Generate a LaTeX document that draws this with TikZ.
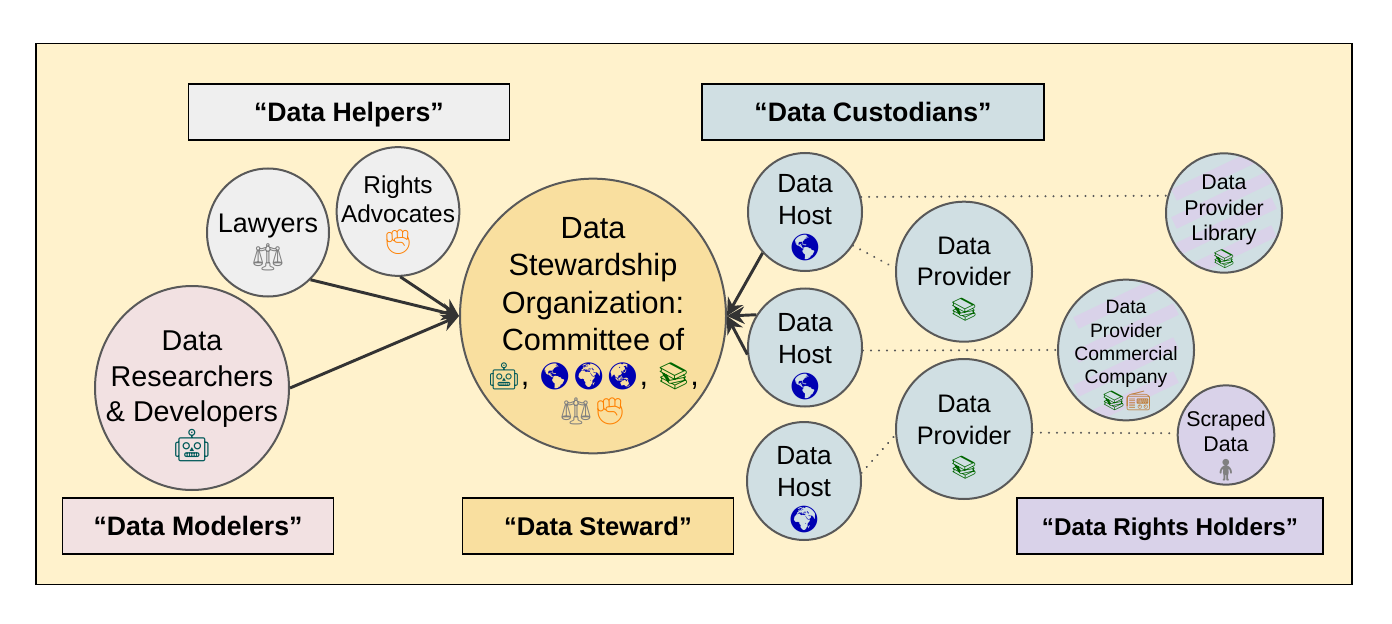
\documentclass[tikz,border=0pt]{standalone}
\usepackage{fontspec}
\setmainfont{Liberation Sans}
\newfontfamily\emojifont{Noto Emoji}
\usepackage{xcolor}
\usetikzlibrary{calc,arrows.meta,shapes.geometric}
\definecolor{paperBg}{HTML}{FFF2CC}
\definecolor{helperFill}{HTML}{EFEFEF}
\definecolor{custodianFill}{HTML}{D0DFE3}
\definecolor{modelerFill}{HTML}{F2E1E2}
\definecolor{stewardFill}{HTML}{F9DF9F}
\definecolor{holderFill}{HTML}{D9D2E9}
\definecolor{ringGray}{HTML}{595959}
\definecolor{linkGray}{HTML}{333333}
\newcommand{\emo}[2]{{\emojifont\textcolor{#1}{#2}}}
\newcommand{\robotE}{\emo{teal!70!black}{🤖}}
\newcommand{\scaleE}{\emo{gray}{⚖}}
\newcommand{\fistE}{\emo{orange}{✊}}
\newcommand{\booksE}{\emo{green!40!black}{📚}}
\newcommand{\radioE}{\emo{brown}{📻}}
\newcommand{\workerE}{\emo{gray}{🧍}}
\newcommand{\globeE}[1]{\emo{blue!70!black}{#1}}
\newcommand{\emoSize}[2]{{\fontsize{#1}{#1}\selectfont#2}}
% pushes the lines of a node down by #1
\newcommand{\dropby}[1]{\rule{0pt}{\dimexpr.72em+2\dimexpr#1\relax\relax}}
\tikzset{
  actor/.style 2 args={ellipse,draw=ringGray,line width=1.5pt,inner sep=-40pt,align=center,text=black,minimum width=#1pt,minimum height=#2pt},
  hostactor/.style={actor={85.5}{88.5},fill=custodianFill,font=\fontsize{19.7}{24}\selectfont},
  provideractor/.style={actor={102}{105},fill=custodianFill,font=\fontsize{19}{23.5}\selectfont},
  groupbox/.style={draw=black,line width=1pt,font=\fontsize{20}{24}\selectfont\bfseries,inner sep=0pt,text height=17pt,text depth=3pt,minimum height=42pt},
  link/.style={draw=linkGray,line width=2.2pt,-{Stealth[length=13pt,width=13pt]}},
  tie/.style={draw=ringGray,line width=1.7pt,line cap=round,dash pattern=on 0.01pt off 6pt},
  stripes/.style={path picture={
    \foreach \dy in {-1.5,-.5,.5,1.5}
      \draw[holderFill,line width=9.5pt] ($(path picture bounding box.center)+(-50,\dy*#1+24)$) -- ++(100,-48);
  }}
}
\begin{document}
\begin{tikzpicture}[x=0.75pt,y=-0.75pt]
  \useasboundingbox (0,0) rectangle (1392,624);
  % outer panel
  \node[draw=black,line width=1.2pt,fill=paperBg,minimum width=987pt,minimum height=405.75pt,inner sep=0pt] (panel) at (694,314) {};
  % group captions
  \node[groupbox,fill=helperFill,minimum width=240.75pt] (helpers) at (349,112) {“Data Helpers”};
  \node[groupbox,fill=custodianFill,minimum width=256.5pt] (custodians) at (873,112) {“Data Custodians”};
  \node[groupbox,fill=modelerFill,minimum width=203.25pt] (modelers) at (198,526) {“Data Modelers”};
  \node[groupbox,fill=stewardFill,minimum width=203.25pt,font=\fontsize{19.2}{24}\selectfont\bfseries] (steward) at (598,526) {“Data Steward”};
  \node[groupbox,fill=holderFill,minimum width=229.5pt,font=\fontsize{18.2}{24}\selectfont\bfseries] (holders) at (1170,526) {“Data Rights Holders”};
  % left side
  \node[actor={91.5}{96},fill=helperFill,font=\fontsize{20.2}{25.5}\selectfont] (lawyers) at (268,232.5) {\dropby{7.5pt}Lawyers\\\scaleE};
  \node[actor={92}{96.5},fill=helperFill,font=\fontsize{18.3}{21.5}\selectfont] (advocates) at (398,211.5) {\dropby{3pt}Rights\\Advocates\\\fistE};
  \node[actor={145.5}{153},fill=modelerFill,font=\fontsize{21.5}{26.5}\selectfont] (researchers) at (192,388) {\dropby{6pt}Data\\Researchers\\\& Developers\\\emoSize{24}{\robotE}};
  % the organization
  \node[actor={199.5}{206},fill=stewardFill,font=\fontsize{23}{28}\selectfont] (org) at (593,316) {\dropby{3.5pt}Data\\Stewardship\\Organization:\\Committee of\\[-2pt]\emoSize{20}{\robotE}, \emoSize{20}{\globeE{🌎🌍🌏}}, \emoSize{20}{\booksE},\\[-1.5pt]\emoSize{20}{\scaleE\fistE}};
  % hosts and providers
  \node[hostactor] (hostA) at (805,212) {\dropby{3.75pt}Data\\Host\\\globeE{🌎}};
  \node[hostactor] (hostB) at (805,347.5) {\dropby{6.4pt}Data\\Host\\\globeE{🌎}};
  \node[hostactor] (hostC) at (804,481) {\dropby{6.4pt}Data\\Host\\\globeE{🌍}};
  \node[provideractor] (providerA) at (964,271.7) {\dropby{5.25pt}Data\\Provider\\\emoSize{17}{\booksE}};
  \node[provideractor] (providerB) at (964,429) {\dropby{6pt}Data\\Provider\\\emoSize{17}{\booksE}};
  \node[actor={87}{89.5},fill=custodianFill,stripes=28,font=\fontsize{16}{19}\selectfont] (library) at (1224,213) {\dropby{6.5pt}Data\\Provider\\Library\\\emoSize{14}{\booksE}};
  \node[actor={102}{105.5},fill=custodianFill,stripes=34,font=\fontsize{14.5}{17.5}\selectfont] (company) at (1126,350) {\dropby{3.75pt}Data\\Provider\\Commercial\\Company\\\booksE\radioE};
  \node[actor={72.5}{74.5},fill=holderFill,font=\fontsize{16}{19}\selectfont] (scraped) at (1226,435) {\dropby{8.25pt}Scraped\\Data\\\workerE};
  % links into the organization
  \draw[link] (researchers.east) -- (org.west);
  \draw[link] (lawyers.-48) -- (org.west);
  \draw[link] (advocates.-88) -- (org.west);
  \draw[link] (hostA.-136) -- (org.east);
  \draw[link] (hostB.146) -- (org.east);
  \draw[link] (hostB.187) -- (org.east);
  % dotted ties
  \draw[tie] (hostA.15) -- (library.163);
  \draw[tie] (hostA.-35) -- (providerA.177);
  \draw[tie] (hostB.-3) -- (company.west);
  \draw[tie] (hostC.8) -- (providerB.185);
  \draw[tie] (providerB.-3) -- (scraped.178);
\end{tikzpicture}
\end{document}
